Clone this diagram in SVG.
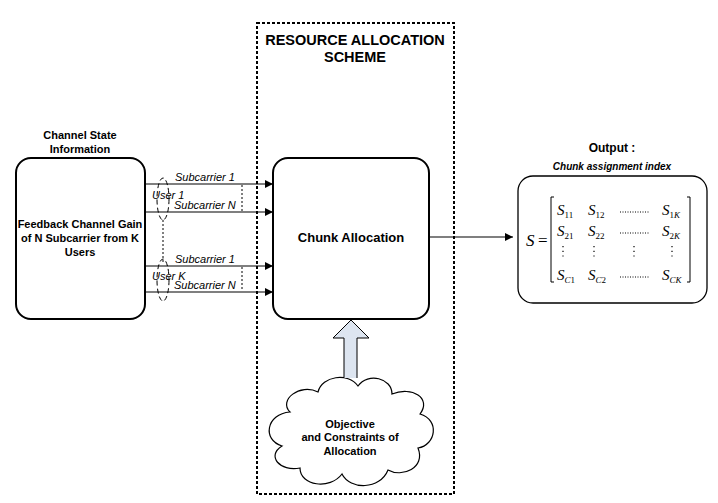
<svg xmlns="http://www.w3.org/2000/svg" width="718" height="503" viewBox="0 0 718 503">
<defs>
<style>
.b{font-family:"Liberation Sans",Arial,sans-serif;font-weight:bold;fill:#000}
.i{font-family:"Liberation Sans",Arial,sans-serif;font-style:italic;font-size:11px;fill:#000}
.m{font-family:"Liberation Serif","Times New Roman",serif;font-style:italic;fill:#000}
.ms{font-family:"Liberation Serif","Times New Roman",serif;font-style:normal;font-size:9px;fill:#000}
.mi{font-family:"Liberation Serif","Times New Roman",serif;font-style:italic;font-size:9px;fill:#000}
.box{fill:#fff;stroke:#000;stroke-width:2}
.ln{stroke:#000;stroke-width:1.2;fill:none}
.dot{stroke:#000;stroke-width:1;stroke-dasharray:2,2;fill:none}
</style>
<marker id="ah" viewBox="0 0 10 10" refX="10" refY="5" markerWidth="10" markerHeight="8" markerUnits="userSpaceOnUse" orient="auto">
<path d="M0,0 L10,5 L0,10 Z" fill="#000"/>
</marker>
</defs>
<rect width="718" height="503" fill="#fff"/>

<g id="scheme">
<rect x="257" y="23" width="197" height="471" fill="none" stroke="#000" stroke-width="2" stroke-dasharray="3,2"/>
<text class="b" font-size="14.5" x="355" y="45" text-anchor="middle">RESOURCE ALLOCATION</text>
<text class="b" font-size="14.5" x="355" y="62" text-anchor="middle">SCHEME</text>
</g>

<g id="csi">
<text class="b" font-size="11" x="80" y="139" text-anchor="middle">Channel State</text>
<text class="b" font-size="11" x="80" y="153" text-anchor="middle">Information</text>
<rect class="box" x="16" y="158" width="129" height="161" rx="15"/>
<text class="b" font-size="11" x="80" y="228" text-anchor="middle">Feedback Channel Gain</text>
<text class="b" font-size="11" x="80" y="242" text-anchor="middle">of N Subcarrier from K</text>
<text class="b" font-size="11" x="80" y="256" text-anchor="middle">Users</text>
</g>

<g id="chunk">
<rect class="box" x="273" y="158" width="156" height="161" rx="15"/>
<text class="b" font-size="13" x="351" y="242" text-anchor="middle">Chunk Allocation</text>
</g>

<g id="output">
<text class="b" font-size="12" x="612" y="152" text-anchor="middle">Output :</text>
<text class="b" font-size="10" font-style="italic" x="612" y="170" text-anchor="middle">Chunk assignment index</text>
<rect fill="#fff" stroke="#000" stroke-width="1.3" x="518" y="176" width="189" height="127" rx="15"/>
<text class="m" font-size="17" x="526" y="246">S</text>
<text font-family="Liberation Serif,serif" font-size="17" x="538" y="246">=</text>
<path d="M554,197 L551,197 L551,282 L554,282 M687,197 L690,197 L690,282 L687,282" fill="none" stroke="#000" stroke-width="1"/>
<g class="m" font-size="15">
<text x="557" y="215">S<tspan class="ms" dy="3">11</tspan></text>
<text x="588" y="215">S<tspan class="ms" dy="3">12</tspan></text>
<text x="662" y="215">S<tspan class="ms" dy="3">1</tspan><tspan class="mi">K</tspan></text>
<text x="557" y="236">S<tspan class="ms" dy="3">21</tspan></text>
<text x="588" y="236">S<tspan class="ms" dy="3">22</tspan></text>
<text x="662" y="236">S<tspan class="ms" dy="3">2</tspan><tspan class="mi">K</tspan></text>
<text x="557" y="280">S<tspan class="mi" dy="3">C</tspan><tspan class="ms">1</tspan></text>
<text x="588" y="280">S<tspan class="mi" dy="3">C</tspan><tspan class="ms">2</tspan></text>
<text x="662" y="280">S<tspan class="mi" dy="3">CK</tspan></text>
</g>
<g stroke="#000" stroke-width="1" stroke-dasharray="1,1.5">
<line x1="620" y1="212" x2="650" y2="212"/>
<line x1="620" y1="233" x2="650" y2="233"/>
<line x1="620" y1="277" x2="650" y2="277"/>
</g>
<g stroke="#000" stroke-width="1.2" stroke-dasharray="1.2,3.5">
<line x1="563" y1="246" x2="563" y2="258"/>
<line x1="594" y1="246" x2="594" y2="258"/>
<line x1="634" y1="246" x2="634" y2="258"/>
<line x1="672" y1="246" x2="672" y2="258"/>
</g>
</g>

<g id="cloud">
<path d="M290,412 C278,400 300,383 318,392 C322,376 348,372 358,386 C368,372 392,378 392,394 C412,386 432,398 420,414 C440,420 436,445 418,448 C426,468 402,478 388,470 C380,490 350,490 342,474 C330,490 300,486 300,468 C280,472 266,456 282,446 C262,440 266,414 290,412 Z" fill="#fff" stroke="#000" stroke-width="1.2"/>
<text class="b" font-size="11" x="350" y="428" text-anchor="middle">Objective</text>
<text class="b" font-size="11" x="350" y="441" text-anchor="middle">and Constraints of</text>
<text class="b" font-size="11" x="350" y="455" text-anchor="middle">Allocation</text>
</g>

<g id="connectors">
<line class="ln" x1="145" y1="184" x2="273" y2="184" marker-end="url(#ah)"/>
<line class="ln" x1="145" y1="212" x2="273" y2="212" marker-end="url(#ah)"/>
<line class="ln" x1="145" y1="266" x2="273" y2="266" marker-end="url(#ah)"/>
<line class="ln" x1="145" y1="292" x2="273" y2="292" marker-end="url(#ah)"/>
<line class="ln" x1="429" y1="237" x2="513" y2="237" marker-end="url(#ah)"/>
<line class="dot" x1="242" y1="185" x2="242" y2="211"/>
<line class="dot" x1="242" y1="267" x2="242" y2="291"/>
<line class="dot" x1="163" y1="220" x2="163" y2="262"/>
<ellipse cx="163" cy="199" rx="6" ry="21" fill="none" stroke="#000" stroke-width="1" stroke-dasharray="5,3"/>
<ellipse cx="163" cy="280" rx="6" ry="21" fill="none" stroke="#000" stroke-width="1" stroke-dasharray="5,3"/>
<text class="i" x="175" y="181">Subcarrier 1</text>
<text class="i" x="152" y="199">User 1</text>
<text class="i" x="174" y="209">Subcarrier N</text>
<text class="i" x="175" y="263">Subcarrier 1</text>
<text class="i" x="152" y="280">User K</text>
<text class="i" x="174" y="289">Subcarrier N</text>
<path d="M344,378 L344,338 L333,338 L351,320 L369,338 L357,338 L357,378" fill="#dde5f0" stroke="#000" stroke-width="1"/>
</g>
</svg>
